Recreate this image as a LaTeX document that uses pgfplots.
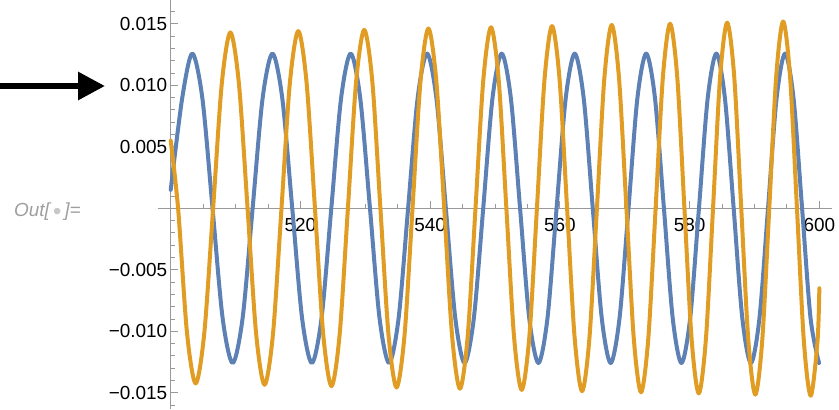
\documentclass[border=0pt]{standalone}
\usepackage{fontspec}
\setmainfont{Liberation Sans}
\usepackage{pgfplots}
\pgfplotsset{compat=1.18}
\usetikzlibrary{arrows.meta}
\definecolor{mblue}{rgb}{0.368417,0.506779,0.709798}
\definecolor{morange}{rgb}{0.880722,0.611041,0.142051}
\definecolor{axgray}{gray}{0.6}
\begin{document}
\begin{tikzpicture}[x=1bp,y=1bp]
\useasboundingbox (0,0) rectangle (839,409);
\draw[line width=6bp, -{Triangle[length=27bp, width=27bp]}] (0,323) -- (105,323);
\node[anchor=base west, inner sep=0pt, text=black!38, font=\itshape\fontsize{19}{22}\selectfont] at (14,193) {Out[\hspace{3bp}{\color{black!22}\raisebox{-3.5bp}{\fontsize{24}{24}\selectfont\textbullet}}\hspace{3bp}]=};
\begin{axis}[
 at={(170.7bp,0bp)}, anchor=south west,
 scale only axis, width=661.6bp, height=409bp,
 xmin=500, xmax=602, ymin=-0.016317, ymax=0.016935,
 axis x line*=middle, axis y line*=left,
 axis line style={draw=axgray, line width=0.9bp},
 clip=false,
 scaled x ticks=false, scaled y ticks=false,
 xtick={520,540,560,580,600}, xticklabels={520,540,560,580,600},
 ytick={-0.015,-0.01,-0.005,0.005,0.01,0.015},
 yticklabels={−0.015,−0.010,−0.005,0.005,0.010,0.015},
 minor xtick={505,510,...,600},
 minor ytick={-0.016,-0.015,...,0.016},
 tick align=inside,
 major tick length=7bp, minor tick length=4.5bp,
 tick style={draw=axgray, line width=0.9bp},
 minor tick style={draw=axgray, line width=0.9bp},
 tick label style={font=\fontsize{19}{22}\selectfont, text=black},
 xticklabel style={yshift=-6bp},
]
\draw[axgray, line width=0.9bp] (axis cs:498,0) -- (axis cs:500,0);
\addplot[mblue, line width=4bp, smooth, line cap=round, line join=round] coordinates {
(500.00,0.0015) (501.76,0.00891) (503.33,0.01258) (504.89,0.00891) (506.45,0) (508.00,-0.00891)
(509.55,-0.01258) (511.09,-0.00891) (512.63,0) (514.16,0.00891) (515.69,0.01258) (517.21,0.00891)
(518.74,0) (520.25,-0.00891) (521.76,-0.01258) (523.26,-0.00891) (524.76,0) (526.26,0.00891)
(527.75,0.01258) (529.23,0.00891) (530.72,0) (532.19,-0.00891) (533.67,-0.01258) (535.14,-0.00891)
(536.60,0) (538.06,0.00891) (539.52,0.01258) (540.97,0.00891) (542.42,0) (543.87,-0.00891)
(545.31,-0.01258) (546.74,-0.00891) (548.18,0) (549.60,0.00891) (551.03,0.01258) (552.45,0.00891)
(553.86,0) (555.27,-0.00891) (556.69,-0.01258) (558.09,-0.00891) (559.49,0) (560.89,0.00891)
(562.29,0.01258) (563.68,0.00891) (565.07,0) (566.45,-0.00891) (567.83,-0.01258) (569.20,-0.00891)
(570.58,0) (571.94,0.00891) (573.31,0.01258) (574.67,0.00891) (576.04,0) (577.39,-0.00891)
(578.74,-0.01258) (580.09,-0.00891) (581.44,0) (582.78,0.00891) (584.12,0.01258) (585.45,0.00891)
(586.79,0) (588.12,-0.00891) (589.45,-0.01258) (590.77,-0.00891) (592.09,0) (593.40,0.00891)
(594.72,0.01258) (596.03,0.00891) (597.34,0) (598.64,-0.00891) (599.95,-0.01258)
};
\addplot[morange, line width=4bp, smooth, line cap=round, line join=round] coordinates {
(500.00,0.0055) (501.14,0) (502.50,-0.01006) (503.85,-0.01424) (505.19,-0.01008) (506.54,0)
(507.87,0.01010) (509.20,0.01430) (510.52,0.01012) (511.85,0) (513.16,-0.01014) (514.47,-0.01435)
(515.78,-0.01016) (517.08,0) (518.37,0.01018) (519.67,0.01441) (520.95,0.01020) (522.24,0)
(523.51,-0.01022) (524.79,-0.01446) (526.05,-0.01023) (527.32,0) (528.58,0.01025) (529.84,0.01451)
(531.09,0.01027) (532.33,0) (533.58,-0.01029) (534.82,-0.01457) (536.05,-0.01031) (537.28,0)
(538.51,0.01033) (539.73,0.01462) (540.95,0.01034) (542.17,0) (543.38,-0.01036) (544.59,-0.01467)
(545.79,-0.01038) (546.99,0) (548.19,0.01040) (549.38,0.01472) (550.57,0.01042) (551.75,0)
(552.93,-0.01043) (554.11,-0.01477) (555.29,-0.01045) (556.46,0) (557.63,0.01047) (558.79,0.01482)
(559.95,0.01049) (561.11,0) (562.27,-0.01050) (563.42,-0.01487) (564.56,-0.01052) (565.71,0)
(566.85,0.01054) (567.99,0.01491) (569.12,0.01055) (570.26,0) (571.39,-0.01057) (572.51,-0.01496)
(573.63,-0.01059) (574.76,0) (575.87,0.01060) (576.99,0.01501) (578.10,0.01062) (579.20,0)
(580.31,-0.01064) (581.41,-0.01505) (582.51,-0.01065) (583.61,0) (584.70,0.01067) (585.79,0.01510)
(586.88,0.01069) (587.96,0) (589.05,-0.01070) (590.13,-0.01515) (591.20,-0.01072) (592.28,0)
(593.35,0.01073) (594.42,0.01519) (595.48,0.01075) (596.55,0) (597.61,-0.01077) (598.67,-0.01524)
(599.72,-0.01078) (600.00,-0.0065)
};
\end{axis}
\end{tikzpicture}
\end{document}
